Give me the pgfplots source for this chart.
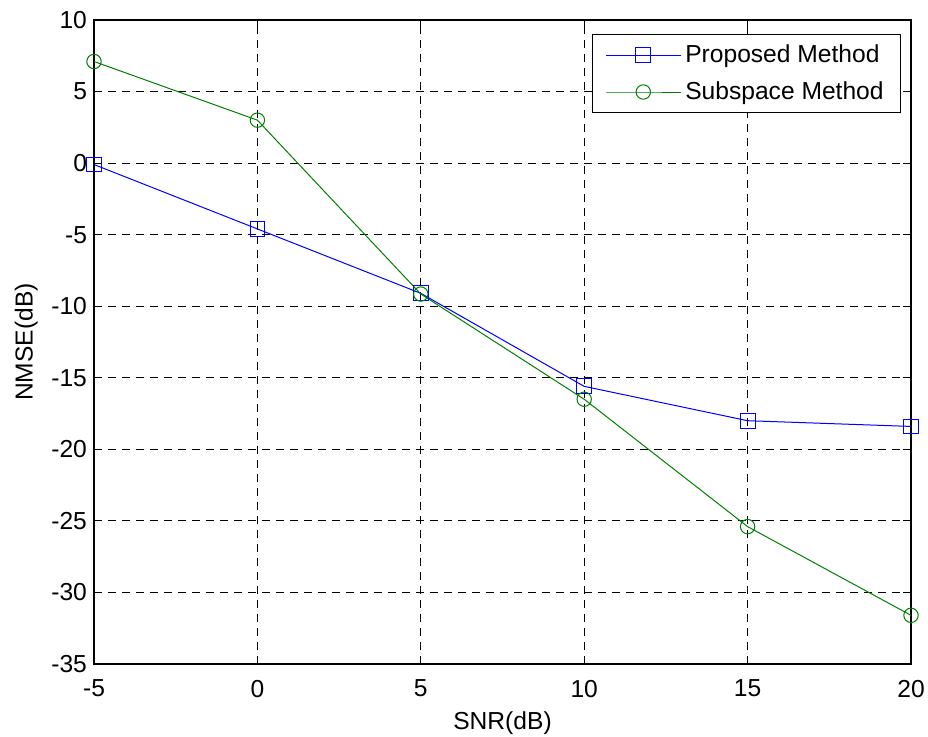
\documentclass[border=0pt]{standalone}
\usepackage{pgfplots}
\pgfplotsset{compat=1.18}
\usepackage{fontspec}
\setmainfont{Liberation Sans}

\begin{document}
\begin{tikzpicture}
\begin{axis}[
  scale only axis,
  width=408.5pt, height=322pt,
  xmin=-5, xmax=20, ymin=-35, ymax=10,
  xtick={-5,0,...,20}, ytick={-35,-30,...,10},
  tick align=inside,
  major tick length=4pt,
  xtick pos=both, ytick pos=both,
  axis line style={black, line width=0.6pt},
  grid=major,
  major grid style={black, line width=0.5pt, dash pattern=on 4pt off 3pt},
  every tick/.style={black, line width=0.5pt},
  tick label style={font=\fontsize{12.3}{14}\selectfont},
  xticklabel style={yshift=-4.5pt},
  /pgf/number format/assume math mode=true,
  xlabel={SNR(dB)}, ylabel={NMSE(dB)},
  label style={font=\fontsize{12.3}{14}\selectfont},
  xlabel style={yshift=0pt},
  ylabel style={yshift=0pt},
  legend style={at={(0.988,0.978)}, anchor=north east, draw=black,
    line width=0.6pt, font=\fontsize{12.3}{14}\selectfont,
    inner xsep=6.5pt, inner ysep=3pt, row sep=4pt},
  legend cell align=left,
  legend image code/.code={%
    \draw[mark repeat=2, mark phase=2, line width=0.5pt]
      plot coordinates {(0pt,0pt) (18.75pt,0pt) (37.5pt,0pt)};},
]
\addplot[blue, line width=0.5pt, mark=square, mark size=3.7pt, mark options={solid}]
  coordinates {(-5,-0.1) (0,-4.6) (5,-9.1) (10,-15.6) (15,-18.0) (20,-18.4)};
\addlegendentry{Proposed Method}
\addplot[black!50!green, line width=0.5pt, mark=o, mark size=3.6pt, mark options={solid}]
  coordinates {(-5,7.1) (0,3.0) (5,-9.15) (10,-16.5) (15,-25.4) (20,-31.6)};
\addlegendentry{Subspace Method}
\end{axis}
% fixed page frame around the axis
\pgfresetboundingbox
\useasboundingbox ([shift={(-47pt,-36pt)}]current axis.south west) rectangle ([shift={(8.5pt,10pt)}]current axis.north east);
\end{tikzpicture}
\end{document}
